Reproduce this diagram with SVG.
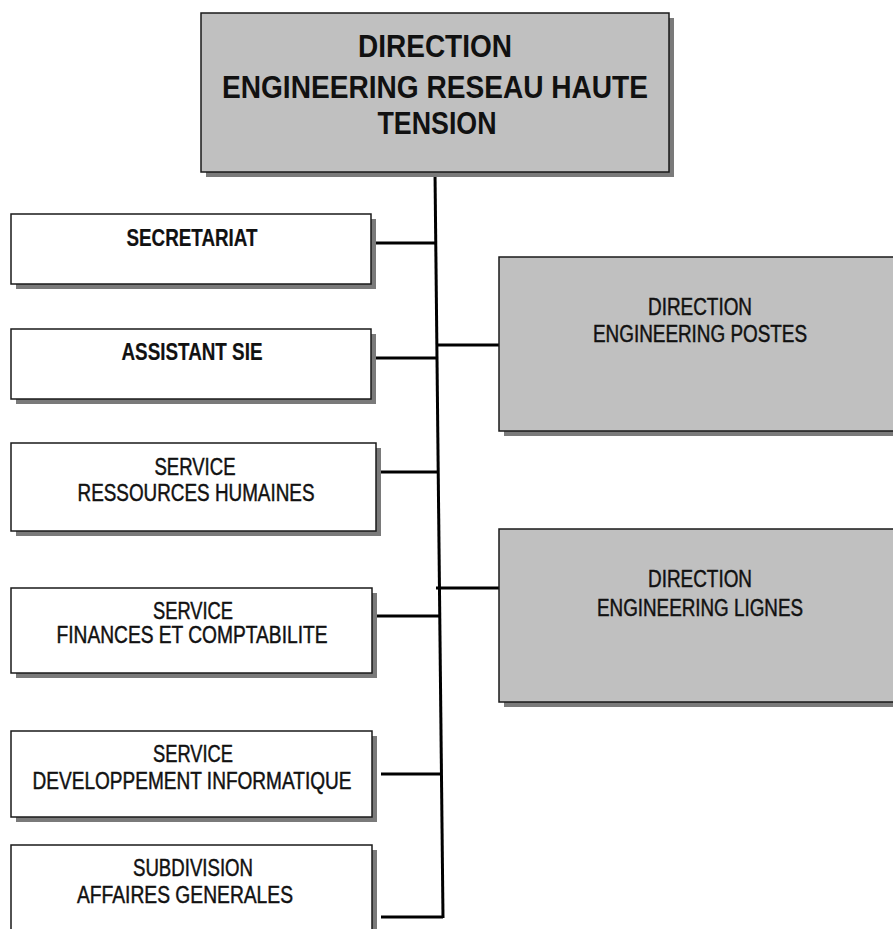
<svg xmlns="http://www.w3.org/2000/svg" width="893" height="929" viewBox="0 0 893 929">
  <style>
    .box { stroke: #1a1a1a; stroke-width: 1.5; }
    .white { fill: #ffffff; }
    .grey { fill: #c0c0c0; }
    .shadow { fill: #7a7a7a; }
    .lbl { font-family: "Liberation Sans", Arial, sans-serif; fill: #111; text-anchor: middle; }
    .title { font-size: 32px; font-weight: bold; }
    .small { font-size: 23px; stroke: #111; stroke-width: 0.45; }
    .b { font-weight: bold; stroke-width: 0.2; }
    .wire { stroke: #000; stroke-width: 3; fill: none; stroke-linecap: butt; }
  </style>
  <rect width="893" height="929" fill="#ffffff"/>

  <!-- connectors -->
  <g id="connectors">
    <line class="wire" x1="435" y1="172" x2="443" y2="918"/>
    <line class="wire" x1="376" y1="243" x2="436" y2="243"/>
    <line class="wire" x1="371" y1="358" x2="437" y2="358"/>
    <line class="wire" x1="437" y1="345" x2="500" y2="345"/>
    <line class="wire" x1="373" y1="472" x2="438" y2="472"/>
    <line class="wire" x1="376" y1="616" x2="439" y2="616"/>
    <line class="wire" x1="436" y1="588" x2="500" y2="588"/>
    <line class="wire" x1="381" y1="774" x2="442" y2="774"/>
    <line class="wire" x1="381" y1="917" x2="443" y2="917"/>
  </g>

  <!-- head -->
  <g id="direction-reseau-ht">
    <rect class="shadow" x="206" y="18" width="468" height="159"/>
    <rect class="box grey" x="201" y="13" width="468" height="159"/>
    <text class="lbl title" x="435" y="57" textLength="154" lengthAdjust="spacingAndGlyphs">DIRECTION</text>
    <text class="lbl title" x="435" y="98" textLength="426" lengthAdjust="spacingAndGlyphs">ENGINEERING RESEAU HAUTE</text>
    <text class="lbl title" x="437" y="134" textLength="119" lengthAdjust="spacingAndGlyphs">TENSION</text>
  </g>

  <g id="secretariat">
    <rect class="shadow" x="16" y="219" width="360" height="70"/>
    <rect class="box white" x="11" y="214" width="360" height="70"/>
    <text class="lbl small b" x="192" y="246" textLength="131" lengthAdjust="spacingAndGlyphs">SECRETARIAT</text>
  </g>

  <g id="assistant-sie">
    <rect class="shadow" x="16" y="334" width="360" height="70"/>
    <rect class="box white" x="11" y="329" width="360" height="70"/>
    <text class="lbl small b" x="192" y="360" textLength="141" lengthAdjust="spacingAndGlyphs">ASSISTANT SIE</text>
  </g>

  <g id="service-rh">
    <rect class="shadow" x="16" y="448" width="365" height="88"/>
    <rect class="box white" x="11" y="443" width="365" height="88"/>
    <text class="lbl small" x="195" y="475" textLength="81" lengthAdjust="spacingAndGlyphs">SERVICE</text>
    <text class="lbl small" x="196" y="501" textLength="237" lengthAdjust="spacingAndGlyphs">RESSOURCES HUMAINES</text>
  </g>

  <g id="service-finances">
    <rect class="shadow" x="16" y="593" width="361" height="85"/>
    <rect class="box white" x="11" y="588" width="361" height="85"/>
    <text class="lbl small" x="193" y="619" textLength="80" lengthAdjust="spacingAndGlyphs">SERVICE</text>
    <text class="lbl small" x="192" y="643" textLength="271" lengthAdjust="spacingAndGlyphs">FINANCES ET COMPTABILITE</text>
  </g>

  <g id="service-informatique">
    <rect class="shadow" x="16" y="736" width="361" height="86"/>
    <rect class="box white" x="11" y="731" width="361" height="86"/>
    <text class="lbl small" x="193" y="762" textLength="80" lengthAdjust="spacingAndGlyphs">SERVICE</text>
    <text class="lbl small" x="192" y="789" textLength="319" lengthAdjust="spacingAndGlyphs">DEVELOPPEMENT INFORMATIQUE</text>
  </g>

  <g id="subdivision-ag">
    <rect class="shadow" x="16" y="850" width="361" height="100"/>
    <rect class="box white" x="11" y="845" width="361" height="100"/>
    <text class="lbl small" x="193" y="876" textLength="120" lengthAdjust="spacingAndGlyphs">SUBDIVISION</text>
    <text class="lbl small" x="185" y="903" textLength="216" lengthAdjust="spacingAndGlyphs">AFFAIRES GENERALES</text>
  </g>

  <g id="direction-postes">
    <rect class="shadow" x="504" y="262" width="400" height="174"/>
    <rect class="box grey" x="499" y="257" width="400" height="174"/>
    <text class="lbl small" x="700" y="315" textLength="104" lengthAdjust="spacingAndGlyphs">DIRECTION</text>
    <text class="lbl small" x="700" y="342" textLength="214" lengthAdjust="spacingAndGlyphs">ENGINEERING POSTES</text>
  </g>

  <g id="direction-lignes">
    <rect class="shadow" x="504" y="534" width="400" height="173"/>
    <rect class="box grey" x="499" y="529" width="400" height="173"/>
    <text class="lbl small" x="700" y="587" textLength="104" lengthAdjust="spacingAndGlyphs">DIRECTION</text>
    <text class="lbl small" x="700" y="616" textLength="206" lengthAdjust="spacingAndGlyphs">ENGINEERING LIGNES</text>
  </g>
</svg>
